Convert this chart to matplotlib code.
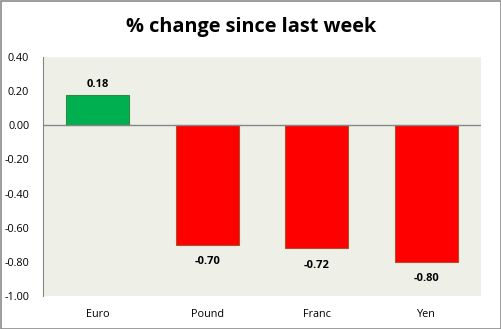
import matplotlib
matplotlib.use("Agg")
import matplotlib.pyplot as plt
from matplotlib.patches import Rectangle

categories = ["Euro", "Pound", "Franc", "Yen"]
values = [0.18, -0.70, -0.72, -0.80]
yticks = [0.40, 0.20, 0.00, -0.20, -0.40, -0.60, -0.80, -1.00]

plt.rcParams['font.family'] = ['Open Sans', 'DejaVu Sans']

fig = plt.figure(figsize=(5.02, 3.29), dpi=100)
fig.patch.set_facecolor("white")
fig.patches.append(Rectangle((0.001, 0.001), 0.997, 0.996, transform=fig.transFigure,
                             fill=False, edgecolor="#8c8c8c", linewidth=1.2))
ax = fig.add_axes([0.0857, 0.1003, 0.8723, 0.7264])
ax.set_facecolor("#eef0e8")

colors = ["#00b050" if v >= 0 else "#ff0000" for v in values]
edges = ["#2e8b40" if v >= 0 else "#b0502a" for v in values]
x = range(len(categories))
ax.bar(x, values, width=0.575, color=colors, edgecolor=edges, linewidth=0.8, zorder=3)
ax.set_xlim(-0.5, len(categories) - 0.5)
ax.set_ylim(-1.0, 0.4)
ax.axhline(0, color="#868686", linewidth=1.0, zorder=4)

for xi, v in zip(x, values):
    if v >= 0:
        ax.text(xi, v + 0.028, f"{v:.2f}", ha="center", va="bottom", fontsize=8, fontweight="bold")
    else:
        ax.text(xi, v - 0.068, f"{v:.2f}", ha="center", va="top", fontsize=8, fontweight="bold")

ax.set_yticks(yticks)
ax.set_yticklabels([f"{t:.2f}" for t in yticks], fontsize=7.8)
ax.set_xticks(list(x))
ax.set_xticklabels(categories, fontsize=7.8)
ax.tick_params(axis="x", length=0, pad=9)
ax.tick_params(axis="y", length=0, pad=10)
for s in ["top", "right", "bottom"]:
    ax.spines[s].set_visible(False)
ax.spines["left"].set_color("#868686")

fig.text(0.5, 0.917, "% change since last week", ha="center", va="center",
         fontsize=14.3, fontweight="bold")

fig.savefig("out.png", dpi=100)
